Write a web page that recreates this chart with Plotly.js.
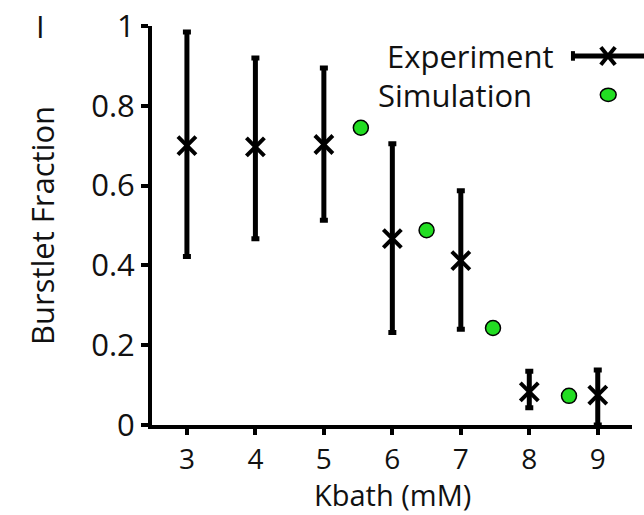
<!DOCTYPE html>
<html><head><meta charset="utf-8">
<script src="https://cdn.plot.ly/plotly-3.0.1.min.js"></script>
<style>html,body{margin:0;padding:0;background:#fff}#chart{width:644px;height:515px}</style>
</head><body><div id="chart"></div>
<script>
// Data
const kbathExp = [3, 4, 5, 6, 7, 8, 9];
const fracExp = [0.70, 0.697, 0.703, 0.467, 0.412, 0.083, 0.075];
const errUp = [0.285, 0.223, 0.192, 0.238, 0.175, 0.052, 0.063];
const errDown = [0.278, 0.230, 0.190, 0.235, 0.172, 0.040, 0.075];
const kbathSim = [5.54, 6.50, 7.47, 8.58];
const fracSim = [0.745, 0.488, 0.243, 0.073];
const xTicks = [3, 4, 5, 6, 7, 8, 9];
const yTicks = [0, 0.2, 0.4, 0.6, 0.8, 1];
const yTickText = ['0', '0.2', '0.4', '0.6', '0.8', '1'];

const FONT = 'Open Sans, DejaVu Sans, sans-serif';
const FS = 31;
const TXT = '#111';
const traces = [
  {
    x: kbathExp, y: fracExp, type: 'scatter', mode: 'markers', name: 'Experiment',
    marker: {symbol: 'x-thin', size: 18, color: '#000', line: {width: 4, color: '#000'}},
    error_y: {type: 'data', symmetric: false, array: errUp, arrayminus: errDown,
              color: '#000', thickness: 5, width: 4},
    cliponaxis: false, showlegend: false
  },
  {
    x: kbathSim, y: fracSim, type: 'scatter', mode: 'markers', name: 'Simulation',
    marker: {symbol: 'circle', size: 15, color: '#22dd22', line: {width: 1.5, color: '#000'}},
    cliponaxis: false, showlegend: false
  }
];

const layout = {
  width: 644, height: 515,
  margin: {l: 152, r: 12, t: 26, b: 90},
  paper_bgcolor: '#fff', plot_bgcolor: '#fff',
  font: {family: FONT, size: FS, color: TXT},
  xaxis: {
    range: [2.49, 9.5], tickvals: xTicks, ticktext: xTicks.map(String),
    showgrid: false, zeroline: false, showline: true, linewidth: 4, linecolor: '#000',
    ticks: 'outside', ticklen: 6, tickwidth: 4, tickcolor: '#000',
    tickfont: {family: FONT, size: 28, color: TXT}
  },
  yaxis: {
    range: [0, 1], tickvals: yTicks, ticktext: yTickText,
    showgrid: false, zeroline: false, showline: true, linewidth: 4, linecolor: '#000',
    ticks: 'outside', ticklen: 7, tickwidth: 4, tickcolor: '#000',
    tickfont: {family: FONT, size: FS, color: TXT},
    title: {text: 'Burstlet Fraction', font: {family: FONT, size: FS, color: TXT}, standoff: 28}
  },
  annotations: [
    {text: 'Kbath (mM)', xref: 'paper', yref: 'paper', x: 0.5, y: 0, yshift: -69, xanchor: 'center', yanchor: 'middle',
     showarrow: false, font: {family: FONT, size: 29, color: TXT}},
    {text: 'I', xref: 'paper', yref: 'paper', x: -0.233, y: 1.0, xanchor: 'center', yanchor: 'middle',
     showarrow: false, font: {family: FONT, size: FS, color: TXT}},
    {text: 'Experiment', xref: 'paper', yref: 'paper', x: 0.842, y: 0.925, xanchor: 'right', yanchor: 'middle',
     showarrow: false, font: {family: FONT, size: FS, color: TXT}},
    {text: 'Simulation', xref: 'paper', yref: 'paper', x: 0.796, y: 0.8275, xanchor: 'right', yanchor: 'middle',
     showarrow: false, font: {family: FONT, size: FS, color: TXT}}
  ],
  shapes: [
    // legend key: experiment line + x
    {type: 'line', xref: 'paper', yref: 'paper', x0: 0.875, x1: 1.03, y0: 0.925, y1: 0.925,
     line: {color: '#000', width: 5}},
    {type: 'line', xref: 'paper', yref: 'paper', x0: 0.877, x1: 0.877, y0: 0.913, y1: 0.937,
     line: {color: '#000', width: 4}},
    {type: 'line', xref: 'paper', yref: 'paper', x0: 0.935, x1: 0.965, y0: 0.947, y1: 0.903,
     line: {color: '#000', width: 4}},
    {type: 'line', xref: 'paper', yref: 'paper', x0: 0.935, x1: 0.965, y0: 0.903, y1: 0.947,
     line: {color: '#000', width: 4}},
    // legend key: simulation ellipse
    {type: 'circle', xref: 'paper', yref: 'paper', x0: 0.934, x1: 0.967, y0: 0.811, y1: 0.844,
     fillcolor: '#22dd22', line: {color: '#000', width: 1.5}}
  ],
  showlegend: false
};

Plotly.newPlot('chart', traces, layout, {displayModeBar: false, staticPlot: true});
</script></body></html>
